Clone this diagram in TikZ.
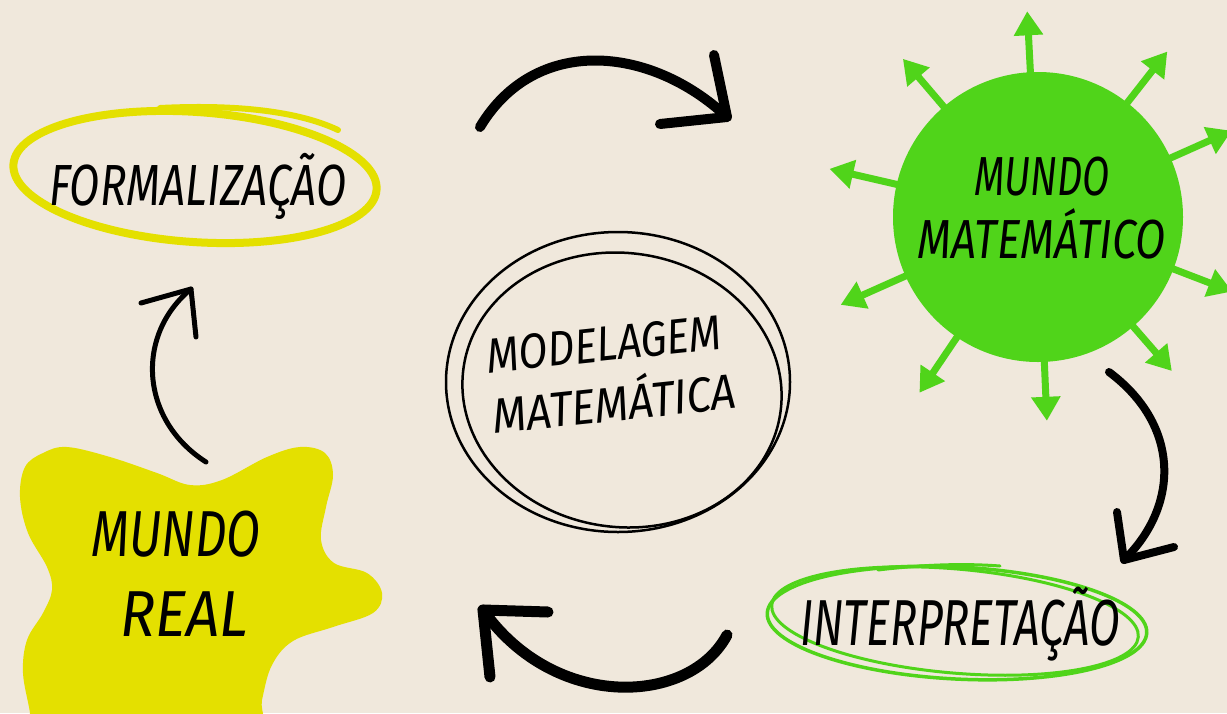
\documentclass[tikz,border=0pt]{standalone}
\usepackage{fontspec}
\setmainfont{Fira Sans}
\usetikzlibrary{arrows.meta,calc}
\definecolor{bg}{RGB}{240,232,220}
\definecolor{ylw}{RGB}{228,224,0}
\definecolor{grn}{RGB}{80,212,26}
\newcommand\hf[2]{\fontsize{#1}{#1}\selectfont\itshape\addfontfeature{FakeStretch=#2}}
\tikzset{
  lbl/.style={anchor=base, inner sep=0pt, text=black},
  flow/.style={draw=black, line cap=round, line join=round},
  spike/.style={draw=grn, line width=7pt, -{Triangle[length=24pt,width=28pt]}},
}
\begin{document}
\begin{tikzpicture}[x=1pt,y=-1pt]
\useasboundingbox (0,0) rectangle (1227,713);
\fill[bg] (0,0) rectangle (1227,713);
\begin{scope}
\clip (0,0) rectangle (1227,713);
% yellow blob (Mundo real)
\fill[ylw] plot[smooth cycle, tension=0.6] coordinates {
 (43,453) (67,447) (110,457) (157,473) (190,485) (222,480) (267,457) (300,447)
 (325,453) (333,475) (326,507) (321,540) (334,563) (367,573) (382,593) (373,613)
 (333,627) (293,641) (272,665) (262,700) (255,740) (150,750) (32,740) (30,713)
 (23,673) (27,640) (43,613) (52,590) (47,567) (28,533) (20,497) (25,467)};
% green spikes
\coordinate (mmc) at (1038,217);
\foreach \a/\r in {-93/206,-52/210,-24/212,21/208,49/204,87.5/204,124/212,156/216,193/214,229.5/208}
  \draw[spike] (mmc) -- ($(mmc)+(\a:\r)$);
\end{scope}
% green circle
\node[circle, fill=grn, minimum size=290pt, inner sep=0pt] (mm) at (mmc) {};
\node[lbl] (mm1) at (1042,195) {\hf{55}{0.72}MUNDO};
\node[lbl] (mm2) at (1042,258) {\hf{55}{0.8}MATEMÁTICO};
% formalizacao
\draw[ylw, line width=8pt, rotate around={-4:(195,177)}] (195,177) ellipse [x radius=182, y radius=65];
\draw[ylw, line width=6pt, line cap=round] (160,108) .. controls (240,104) and (300,112) .. (338,130);
\node[lbl] (form) at (198,205) {\hf{58}{0.76}FORMALIZAÇÃO};
% interpretacao
\draw[grn, line width=3.5pt, rotate around={-3:(957,623)}] (957,623) ellipse [x radius=190, y radius=56];
\draw[grn, line width=3pt, rotate around={-5:(955,621)}] (955,621) ellipse [x radius=184, y radius=52];
\draw[grn, line width=3pt, line cap=round] (878,570) .. controls (920,565) and (960,563) .. (1000,566);
\node[lbl] (interp) at (960,645) {\hf{65}{0.69}INTERPRETAÇÃO};
% mundo real
\node[lbl] (mr1) at (176,556) {\hf{65}{0.76}MUNDO};
\node[lbl] (mr2) at (184,636) {\hf{65}{0.9}REAL};
% modelagem
\draw[black, line width=2.5pt] (618,382) ellipse [x radius=172, y radius=150];
\draw[black, line width=2.5pt, rotate around={-8:(622,390)}] (622,390) ellipse [x radius=160, y radius=137];
\node[lbl, rotate=6] (mod1) at (606,361) {\hf{49}{0.86}MODELAGEM};
\node[lbl, rotate=6] (mod2) at (616,421) {\hf{49}{0.9}MATEMÁTICA};
% arrows
\coordinate (a1s) at (480,127);
\coordinate (a1t) at (727,117);
\draw[flow, line width=10pt] (a1s) .. controls (535,35) and (650,45) .. (a1t);
\draw[flow, line width=10pt] (660,124) -- (a1t) -- (714,55);
\coordinate (a2s) at (1109,372);
\coordinate (a2t) at (1124,560);
\draw[flow, line width=8pt] (a2s) .. controls (1180,425) and (1180,505) .. (a2t);
\draw[flow, line width=8pt] (1117,512) -- (a2t) -- (1174,547);
\coordinate (a3s) at (727,635);
\coordinate (a3t) at (483,610);
\draw[flow, line width=11pt] (a3s) .. controls (690,705) and (555,712) .. (a3t);
\draw[flow, line width=11pt] (548,612) -- (a3t) -- (490,677);
\coordinate (a4s) at (206,462);
\coordinate (a4t) at (191,289);
\draw[flow, line width=5pt] (a4s) .. controls (140,420) and (135,335) .. (a4t);
\draw[flow, line width=5pt] (141,303) -- (a4t) -- (196,337);
\end{tikzpicture}
\end{document}
